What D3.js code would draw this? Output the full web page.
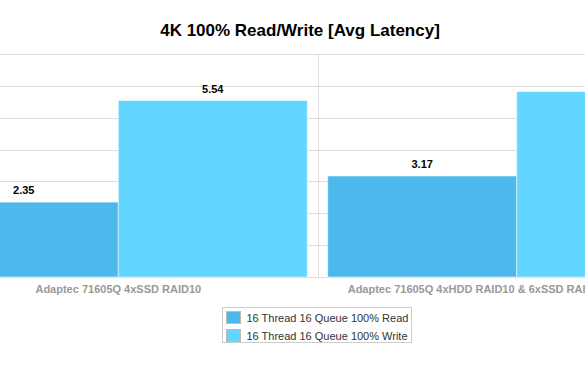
<!DOCTYPE html>
<html>
<head>
<meta charset="utf-8">
<script src="https://cdn.jsdelivr.net/npm/d3@7/dist/d3.min.js"></script>
<style>
  html, body { margin: 0; padding: 0; background: #fff; }
  svg { display: block; font-family: "Liberation Sans", Arial, Helvetica, sans-serif; }
</style>
</head>
<body>
<svg id="chart" width="585" height="365"></svg>
<script>
const title = "4K 100% Read/Write [Avg Latency]";
const categories = ["Adaptec 71605Q 4xSSD RAID10", "Adaptec 71605Q 4xHDD RAID10 & 6xSSD RAID10"];
const seriesNames = ["16 Thread 16 Queue 100% Read", "16 Thread 16 Queue 100% Write"];
const readValues = [2.35, 3.17];
const writeValues = [5.54, 5.82];
const yTicks = [0, 1, 2, 3, 4, 5, 6, 7];
const colors = ["#4db8ec", "#62d6fe"];

const svg = d3.select("#chart");
const W = 585;

const x0 = d3.scaleBand().domain(categories).range([-80.9, 715.9])
  .paddingInner(0.0512).paddingOuter(0.0256);
const x1 = d3.scaleBand().domain(seriesNames).range([0, x0.bandwidth()]);
const y = d3.scaleLinear().domain([0, 7]).range([277, 54]);

// horizontal gridlines
svg.append("g").selectAll("line").data(yTicks).join("line")
  .attr("x1", 0).attr("x2", W)
  .attr("y1", d => Math.round(y(d)) + 0.5).attr("y2", d => Math.round(y(d)) + 0.5)
  .attr("stroke", "#dddddd").attr("stroke-width", 1);

// vertical gridlines between categories
const step = x0.step();
const bounds = [0, 1, 2].map(i => x0.range()[0] + i * step);
svg.append("g").selectAll("line").data(bounds).join("line")
  .attr("x1", d => Math.round(d) + 0.5).attr("x2", d => Math.round(d) + 0.5)
  .attr("y1", y(7)).attr("y2", y(0))
  .attr("stroke", "#dddddd").attr("stroke-width", 1);

const data = categories.map((c, i) => ({
  cat: c,
  vals: [
    { s: seriesNames[0], v: readValues[i], c: colors[0] },
    { s: seriesNames[1], v: writeValues[i], c: colors[1] }
  ]
}));

const groups = svg.append("g").selectAll("g").data(data).join("g")
  .attr("transform", d => `translate(${x0(d.cat)},0)`);

groups.selectAll("rect").data(d => d.vals).join("rect")
  .attr("x", d => x1(d.s))
  .attr("y", d => y(d.v))
  .attr("width", x1.bandwidth())
  .attr("height", d => y(0) - y(d.v))
  .attr("fill", d => d.c)
  .attr("stroke", "rgba(255,255,255,0.5)")
  .attr("stroke-width", 1);

groups.selectAll("text").data(d => d.vals).join("text")
  .attr("x", d => x1(d.s) + x1.bandwidth() / 2)
  .attr("y", d => y(d.v) - 8)
  .attr("text-anchor", "middle")
  .attr("font-size", 11).attr("font-weight", "bold").attr("fill", "#000")
  .text(d => d.v.toFixed(2));

// category labels (second one overflows the right edge, as in the source)
const labelShift = [0, -40];
svg.append("g").selectAll("text").data(categories).join("text")
  .attr("x", (d, i) => x0(d) + x0.bandwidth() / 2 + labelShift[i])
  .attr("y", 293)
  .attr("text-anchor", "middle")
  .attr("font-size", 11).attr("font-weight", "bold").attr("fill", "#999999")
  .text(d => d);

// title
svg.append("text")
  .attr("x", 300).attr("y", 36)
  .attr("text-anchor", "middle")
  .attr("font-size", 17).attr("font-weight", "bold").attr("fill", "#000")
  .text(title);

// legend
const lg = svg.append("g");
lg.append("rect").attr("x", 222.5).attr("y", 307.5).attr("width", 189).attr("height", 35)
  .attr("fill", "#fff").attr("stroke", "#cccccc");
const items = lg.selectAll("g").data(seriesNames).join("g")
  .attr("transform", (d, i) => `translate(226.5,${311.5 + i * 18})`);
items.append("rect").attr("width", 14).attr("height", 12)
  .attr("fill", (d, i) => colors[i]).attr("stroke", "#bbbbbb");
items.append("text").attr("x", 20).attr("y", 10)
  .attr("font-size", 11).attr("fill", "#333")
  .text(d => d);
</script>
</body>
</html>
